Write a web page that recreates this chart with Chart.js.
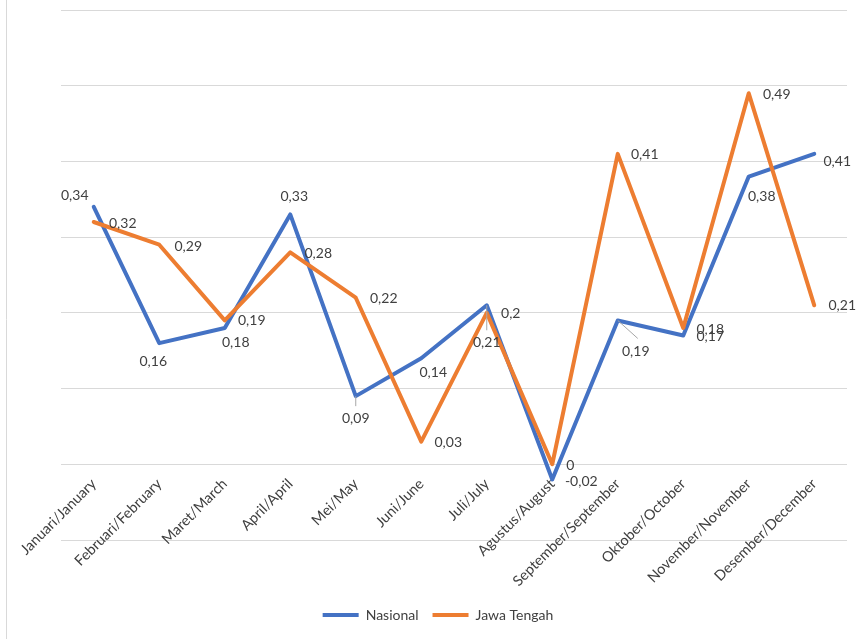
<!DOCTYPE html>
<html>
<head>
<meta charset="utf-8">
<script src="https://cdn.jsdelivr.net/npm/chart.js@4/dist/chart.umd.min.js"></script>
<style>
  html, body { margin: 0; padding: 0; background: #ffffff; }
  #wrap { width: 865px; height: 639px; }
</style>
</head>
<body>
<div id="wrap"><canvas id="c" width="865" height="639"></canvas></div>
<script>
// ---- data ----
const categories = [
  "Januari/January", "Februari/February", "Maret/March", "April/April",
  "Mei/May", "Juni/June", "Juli/July", "Agustus/August",
  "September/September", "Oktober/October", "November/November", "Desember/December"
];
const nasional = [0.34, 0.16, 0.18, 0.33, 0.09, 0.14, 0.21, -0.02, 0.19, 0.17, 0.38, 0.41];
const jawaTengah = [0.32, 0.29, 0.19, 0.28, 0.22, 0.03, 0.2, 0, 0.41, 0.18, 0.49, 0.21];
const seriesNames = ["Nasional", "Jawa Tengah"];
const yMin = -0.1, yMax = 0.6, yStep = 0.1;

// ---- label placement (style) ----
const labelOffsets = [
  [[-19,-11],[-6,18],[11,14],[4,-18],[0,22],[12,14],[0,37],[29,2],[18,31],[27,1],[13,20],[23,8]],
  [[29,1],[29,2],[27,0],[28,1],[28,1],[27,1],[24,1],[18,1],[27,1],[27,1],[28,1],[28,0]]
];
const leaders = [
  {ds:0, i:4, dx:0, dy:10},
  {ds:0, i:6, dx:0, dy:25},
  {ds:0, i:8, dx:20, dy:18}
];

const FONT = "Lato, 'Open Sans', sans-serif";
const TEXT = "#404040";

const fmt = v => String(v).replace('.', ',');

const dataLabels = {
  id: 'dataLabels',
  afterDatasetsDraw(chart) {
    const ctx = chart.ctx;
    ctx.save();
    ctx.strokeStyle = '#a6a6a6';
    ctx.lineWidth = 1;
    leaders.forEach(l => {
      const p = chart.getDatasetMeta(l.ds).data[l.i];
      ctx.beginPath();
      ctx.moveTo(p.x, p.y);
      ctx.lineTo(p.x + l.dx, p.y + l.dy);
      ctx.stroke();
    });
    ctx.font = "14px " + FONT;
    ctx.fillStyle = TEXT;
    ctx.textAlign = 'center';
    ctx.textBaseline = 'middle';
    chart.data.datasets.forEach((ds, d) => {
      const meta = chart.getDatasetMeta(d);
      meta.data.forEach((p, i) => {
        const off = labelOffsets[d][i];
        ctx.fillText(fmt(ds.data[i]), p.x + off[0], p.y + off[1]);
      });
    });
    ctx.restore();
  }
};

const frameLine = {
  id: 'frameLine',
  beforeDraw(chart) {
    const ctx = chart.ctx;
    ctx.save();
    ctx.strokeStyle = '#d9d9d9';
    ctx.lineWidth = 1;
    ctx.beginPath();
    ctx.moveTo(6.5, 0);
    ctx.lineTo(6.5, chart.height);
    ctx.stroke();
    ctx.restore();
  }
};

new Chart(document.getElementById('c'), {
  type: 'line',
  data: {
    labels: categories,
    datasets: [
      { label: seriesNames[0], data: nasional, borderColor: '#4472C4', backgroundColor: '#4472C4',
        borderWidth: 4, pointRadius: 0, tension: 0, borderJoinStyle: 'round', borderCapStyle: 'round', order: 1 },
      { label: seriesNames[1], data: jawaTengah, borderColor: '#ED7D31', backgroundColor: '#ED7D31',
        borderWidth: 4, pointRadius: 0, tension: 0, borderJoinStyle: 'round', borderCapStyle: 'round', order: 0 }
    ]
  },
  options: {
    responsive: false,
    animation: false,
    layout: { padding: { left: 29, right: 18, top: 10, bottom: 7 } },
    scales: {
      x: {
        position: { y: 0 },
        offset: true,
        grid: { display: false, offset: true },
        border: { display: false },
        ticks: {
          minRotation: 45, maxRotation: 45, autoSkip: false, padding: 3,
          color: TEXT, font: { family: FONT, size: 14.5 }
        },
        afterFit(scale) {
          scale.height = 0;
          scale.paddingLeft = 0; scale.paddingRight = 0;
          scale.paddingTop = 0; scale.paddingBottom = 0;
        }
      },
      y: {
        min: yMin, max: yMax,
        ticks: { display: false, stepSize: yStep },
        grid: { color: '#d9d9d9', lineWidth: 1, drawTicks: false },
        border: { display: false },
        afterFit(scale) { scale.width = 32; }
      }
    },
    plugins: {
      tooltip: { enabled: false },
      legend: {
        position: 'bottom',
        title: { display: true, text: '', font: { size: 10 }, padding: { top: 42, bottom: 0 } },
        labels: {
          color: TEXT,
          font: { family: FONT, size: 14 },
          boxWidth: 36, boxHeight: 4, padding: 14,
          sort: (a, b) => a.datasetIndex - b.datasetIndex,
          generateLabels: (chart) => chart.data.datasets.map((ds, i) => ({
            text: ds.label, fillStyle: ds.borderColor, strokeStyle: ds.borderColor,
            lineWidth: 0, hidden: false, datasetIndex: i, fontColor: TEXT
          }))
        }
      }
    }
  },
  plugins: [frameLine, dataLabels]
});
</script>
</body>
</html>
